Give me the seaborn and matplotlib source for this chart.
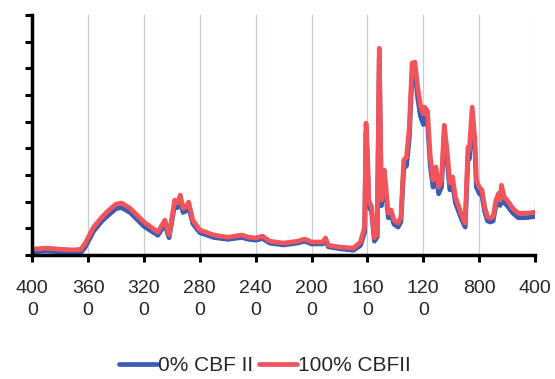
import matplotlib
matplotlib.use("Agg")
import matplotlib.pyplot as plt
import numpy as np
import pandas as pd
import seaborn as sns

# wavenumbers (cm-1)
wavenumber = [4000, 3900, 3800, 3700, 3650, 3620, 3560, 3500, 3450, 3400, 3360, 3300,
              3200, 3100, 3050, 3020, 2980, 2960, 2940, 2920, 2900, 2880, 2850, 2800,
              2700, 2600, 2500, 2450, 2400, 2350, 2300, 2200, 2100, 2050, 2000, 1920,
              1900, 1880, 1800, 1700, 1650, 1620, 1610, 1600, 1590, 1570, 1550, 1530,
              1515, 1500, 1490, 1480, 1470, 1460, 1450, 1430, 1410, 1380, 1360, 1340,
              1320, 1300, 1280, 1260, 1240, 1220, 1200, 1190, 1170, 1150, 1130, 1110,
              1090, 1070, 1050, 1030, 1010, 990, 970, 950, 930, 910, 900, 880, 870, 850,
              830, 820, 800, 780, 760, 740, 720, 700, 680, 660, 650, 640, 620, 600, 560,
              520, 480, 450, 400]

# absorbance, 0% CBF II (blue)
cbf0 = [0.012, 0.015, 0.012, 0.010, 0.010, 0.030, 0.090, 0.128, 0.152, 0.174, 0.178, 0.160,
        0.108, 0.074, 0.115, 0.065, 0.188, 0.178, 0.205, 0.160, 0.165, 0.182, 0.118, 0.084,
        0.066, 0.059, 0.066, 0.059, 0.056, 0.062, 0.045, 0.038, 0.045, 0.052, 0.042, 0.042,
        0.056, 0.031, 0.024, 0.018, 0.036, 0.085, 0.460, 0.360, 0.185, 0.162, 0.052, 0.068,
        0.740, 0.185, 0.232, 0.295, 0.245, 0.186, 0.140, 0.150, 0.116, 0.105, 0.125, 0.325,
        0.335, 0.440, 0.680, 0.690, 0.590, 0.520, 0.490, 0.515, 0.500, 0.335, 0.255, 0.300,
        0.230, 0.255, 0.450, 0.360, 0.245, 0.265, 0.195, 0.168, 0.140, 0.116, 0.105, 0.370,
        0.360, 0.515, 0.395, 0.255, 0.232, 0.222, 0.162, 0.128, 0.124, 0.128, 0.186, 0.210,
        0.186, 0.238, 0.196, 0.186, 0.158, 0.140, 0.140, 0.141, 0.145]

# absorbance, 100% CBFII (red)
cbf100 = [0.022, 0.026, 0.022, 0.019, 0.022, 0.045, 0.105, 0.143, 0.169, 0.191, 0.195, 0.176,
          0.124, 0.086, 0.131, 0.075, 0.206, 0.195, 0.225, 0.176, 0.180, 0.199, 0.131, 0.094,
          0.075, 0.067, 0.075, 0.067, 0.064, 0.071, 0.052, 0.045, 0.052, 0.060, 0.049, 0.049,
          0.064, 0.037, 0.030, 0.026, 0.049, 0.105, 0.495, 0.394, 0.206, 0.180, 0.064, 0.080,
          0.776, 0.206, 0.255, 0.319, 0.270, 0.206, 0.157, 0.169, 0.131, 0.120, 0.143, 0.356,
          0.368, 0.480, 0.720, 0.724, 0.630, 0.560, 0.530, 0.555, 0.540, 0.370, 0.281, 0.330,
          0.255, 0.281, 0.487, 0.394, 0.270, 0.293, 0.217, 0.188, 0.157, 0.131, 0.120, 0.405,
          0.394, 0.555, 0.431, 0.281, 0.255, 0.244, 0.180, 0.143, 0.139, 0.143, 0.206, 0.232,
          0.206, 0.262, 0.217, 0.206, 0.176, 0.157, 0.157, 0.157, 0.161]

x_ticks = [4000, 3600, 3200, 2800, 2400, 2000, 1600, 1200, 800, 400]
x_labels = ["400\n0", "360\n0", "320\n0", "280\n0", "240\n0", "200\n0", "160\n0", "120\n0", "800", "400"]
series_names = ["0% CBF II", "100% CBFII"]
colors = ["#3a5cb5", "#f2545b"]

df = pd.concat([
    pd.DataFrame({"wn": wavenumber, "abs": cbf0, "sample": series_names[0]}),
    pd.DataFrame({"wn": wavenumber, "abs": cbf100, "sample": series_names[1]}),
])

sns.set_style("white")
plt.rcParams["font.family"] = ["Liberation Sans", "DejaVu Sans"]

fig = plt.figure(figsize=(5.55, 3.79), dpi=100)
ax = fig.add_axes([0.058, 0.327, 0.906, 0.633])

sns.lineplot(data=df, x="wn", y="abs", hue="sample", palette=colors,
             linewidth=3.4, ax=ax)

ax.set_xlim(4000, 400)
ax.set_ylim(0, 0.9)
ax.set_xticks(x_ticks)
ax.set_xticklabels(x_labels, fontsize=14, linespacing=1.4)
ax.set_yticks(np.arange(0, 0.91, 0.1))
ax.set_yticklabels([])
ax.set_xlabel("")
ax.set_ylabel("")

ax.grid(axis="x", color="#c8cdd8", linewidth=0.9)
ax.grid(axis="y", visible=False)
for side in ["top", "right"]:
    ax.spines[side].set_visible(False)
for side in ["left", "bottom"]:
    ax.spines[side].set_color("black")
    ax.spines[side].set_linewidth(2.5)
ax.tick_params(axis="both", direction="out", length=5, width=2.2, color="black",
               left=True, bottom=True)
ax.tick_params(axis="x", pad=13)

sns.move_legend(ax, "center", bbox_to_anchor=(0.477, 0.035), bbox_transform=fig.transFigure,
                ncol=2, frameon=False, title=None, fontsize=15, handlelength=1.8,
                handletextpad=0.05, columnspacing=0.3)

fig.savefig("out.png", dpi=100)
